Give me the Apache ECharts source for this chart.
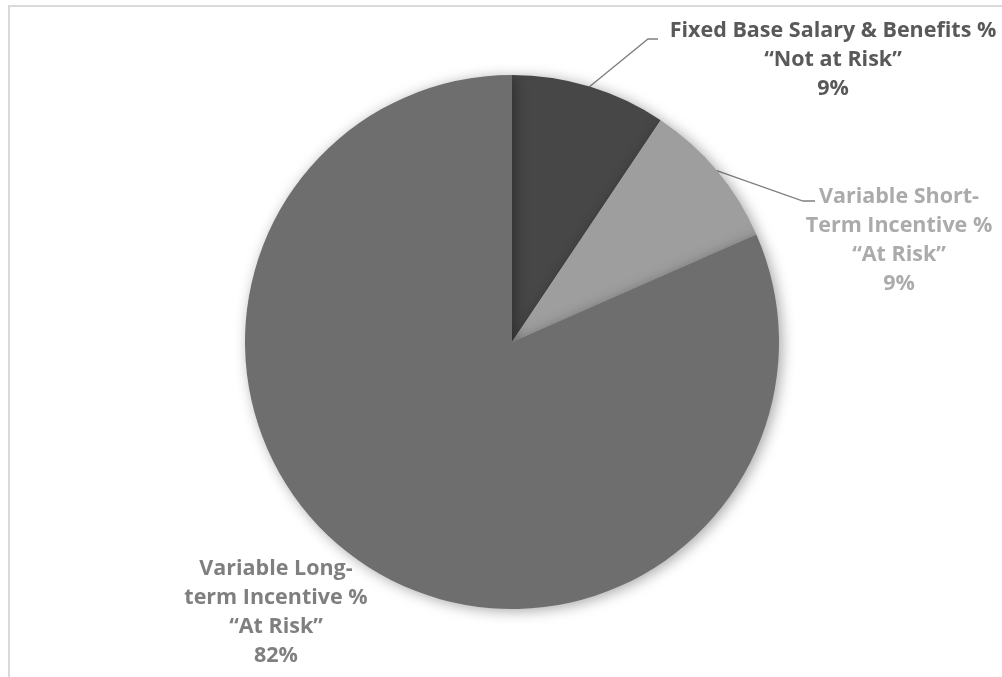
<!DOCTYPE html>
<html>
<head>
<meta charset="utf-8">
<script src="https://cdn.jsdelivr.net/npm/echarts@6/dist/echarts.min.js"></script>
<style>
  html, body { margin: 0; padding: 0; background: #fff; }
  #wrap { position: relative; width: 1002px; height: 677px; overflow: hidden; }
  #frame { position: absolute; left: 8px; top: 5px; width: 1010px; height: 700px; border: 2px solid #d9d9d9; box-sizing: border-box; }
  #chart { position: absolute; left: 0; top: 0; width: 1002px; height: 677px; }
</style>
</head>
<body>
<div id="wrap">
  <div id="frame"></div>
  <div id="chart"></div>
</div>
<script>
// 数据
const categories = [
  "Fixed Base Salary & Benefits %\n“Not at Risk”",
  "Variable Short-\nTerm Incentive %\n“At Risk”",
  "Variable Long-\nterm Incentive %\n“At Risk”"
];
const values = [9.4, 9.0, 81.6];

// 样式
const sliceColors = ["#474747", "#9e9e9e", "#6e6e6e"];
const labelColors = ["#595959", "#ababab", "#7f7f7f"];
// 标签位置 [x, y] 及引导线拐点
const labelPos = [[833, 60], [899, 240], [276, 612]];
const lineBend = [[[648, 39], [658, 39]], [[803, 201], [815, 201]], null];

const chart = echarts.init(document.getElementById("chart"));
chart.setOption({
  animation: false,
  series: [
    {
      type: "pie",
      center: [512, 342],
      radius: 267,
      startAngle: 90,
      clockwise: true,
      silent: true,
      itemStyle: {
        borderWidth: 0,
        shadowBlur: 14,
        shadowColor: "rgba(0,0,0,0.35)",
        shadowOffsetX: 3,
        shadowOffsetY: 2
      },
      label: {
        show: true,
        position: "outside",
        fontFamily: "Open Sans",
        fontWeight: "bold",
        fontSize: 21.5,
        lineHeight: 29,
        align: "center",
        formatter: p => p.name + "\n" + Math.round(p.percent) + "%"
      },
      labelLine: {
        show: true,
        lineStyle: { color: "#7f7f7f", width: 1.3 }
      },
      labelLayout: params => {
        const i = params.dataIndex;
        const res = {
          x: labelPos[i][0],
          y: labelPos[i][1],
          align: "center",
          verticalAlign: "middle"
        };
        const p0 = params.labelLinePoints[0];
        res.labelLinePoints = lineBend[i] ? [p0, lineBend[i][0], lineBend[i][1]] : [p0, p0, p0];
        return res;
      },
      data: categories.map((name, i) => ({
        name: name,
        value: values[i],
        itemStyle: { color: sliceColors[i] },
        label: { color: labelColors[i] },
        labelLine: { show: !!lineBend[i] }
      }))
    }
  ]
});
</script>
</body>
</html>
